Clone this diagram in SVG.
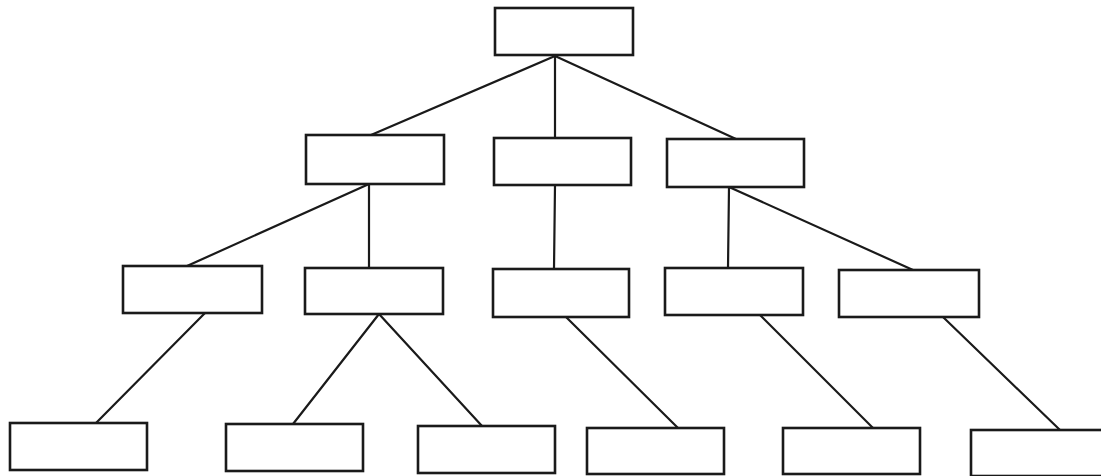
<svg xmlns="http://www.w3.org/2000/svg" width="1101" height="476" viewBox="0 0 1101 476">
<style>
.n{fill:#fff;stroke:#1a1a1a;stroke-width:2.6}
.c line{stroke:#1a1a1a;stroke-width:2.2;stroke-linecap:round}
</style>
<rect width="1101" height="476" fill="#fff"/>
<g class="c" id="connectors">
<line x1="555" y1="56" x2="371" y2="135"/>
<line x1="555" y1="56" x2="555" y2="138"/>
<line x1="555" y1="56" x2="736" y2="139"/>
<line x1="369" y1="184" x2="187" y2="266"/>
<line x1="369" y1="184" x2="369" y2="268"/>
<line x1="555" y1="185" x2="554" y2="269"/>
<line x1="729" y1="187" x2="728" y2="268"/>
<line x1="729" y1="187" x2="913" y2="270"/>
<line x1="205" y1="313" x2="96" y2="423"/>
<line x1="379" y1="314" x2="293" y2="424"/>
<line x1="379" y1="314" x2="482" y2="426"/>
<line x1="566" y1="317" x2="678" y2="428"/>
<line x1="760" y1="315" x2="873" y2="428"/>
<line x1="943" y1="317" x2="1060" y2="430"/>
</g>
<g id="root"><rect class="n" x="495" y="8" width="138" height="47"/></g>
<g id="l2a"><rect class="n" x="306" y="135" width="138" height="49"/></g>
<g id="l2b"><rect class="n" x="494" y="138" width="137" height="47"/></g>
<g id="l2c"><rect class="n" x="667" y="139" width="137" height="48"/></g>
<g id="l3a"><rect class="n" x="123" y="266" width="139" height="47"/></g>
<g id="l3b"><rect class="n" x="305" y="268" width="138" height="46"/></g>
<g id="l3c"><rect class="n" x="493" y="269" width="136" height="48"/></g>
<g id="l3d"><rect class="n" x="665" y="268" width="138" height="47"/></g>
<g id="l3e"><rect class="n" x="839" y="270" width="140" height="47"/></g>
<g id="l4a"><rect class="n" x="10" y="423" width="137" height="47"/></g>
<g id="l4b"><rect class="n" x="226" y="424" width="137" height="47"/></g>
<g id="l4c"><rect class="n" x="418" y="426" width="137" height="47"/></g>
<g id="l4d"><rect class="n" x="587" y="428" width="137" height="46"/></g>
<g id="l4e"><rect class="n" x="783" y="428" width="137" height="46"/></g>
<g id="l4f"><rect class="n" x="971" y="430" width="140" height="46"/></g>
</svg>
